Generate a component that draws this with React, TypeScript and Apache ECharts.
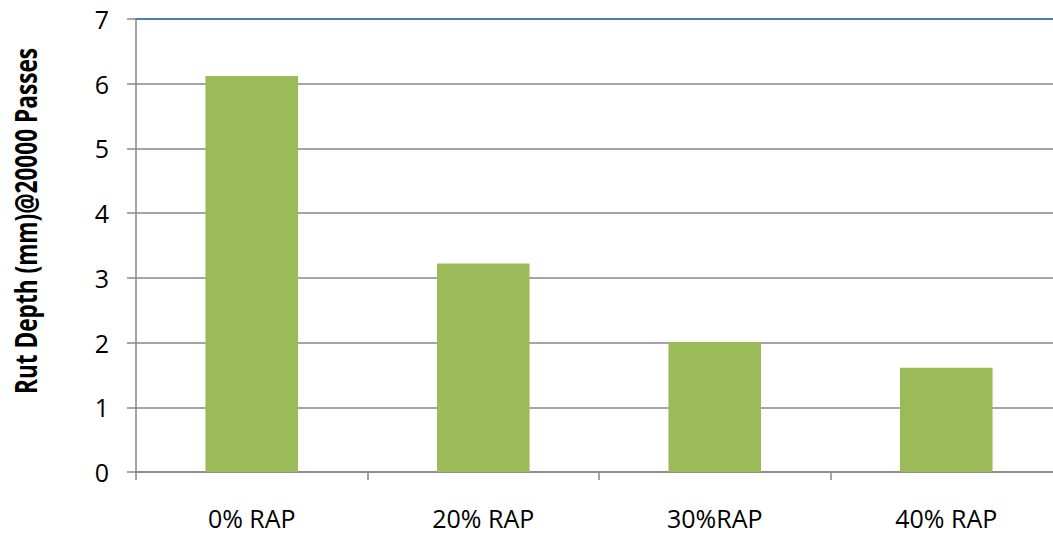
import React, { useEffect, useRef } from "react";
import * as echarts from "echarts";

// Rut depth after 20000 wheel passes for each RAP content
const categories = ["0% RAP", "20% RAP", "30%RAP", "40% RAP"];
const rutDepth = [6.12, 3.22, 2.01, 1.61];
const yTicks = { min: 0, max: 7, interval: 1 };
const yTitle = "Rut Depth (mm)@20000 Passes";

const GRID_GRAY = "#878787";
const TOP_BLUE = "#4A7EBB";
const BAR_GREEN = "#9BBB59";
const FONT = "'Open Sans', 'Liberation Sans', sans-serif";

export default function App() {
  const ref = useRef<HTMLDivElement>(null);

  useEffect(() => {
    if (!ref.current) return;
    const chart = echarts.init(ref.current, null, { renderer: "svg" });
    chart.setOption({
      animation: false,
      backgroundColor: "#ffffff",
      // the plot runs slightly past the visible right edge
      grid: { left: 136, top: 19, right: 0, bottom: 63, containLabel: false },
      xAxis: [
        {
          type: "category",
          data: categories,
          position: "bottom",
          axisLine: { show: true, lineStyle: { color: GRID_GRAY, width: 1.5 } },
          axisTick: { show: true, length: 8, lineStyle: { color: GRID_GRAY, width: 1.5 } },
          axisLabel: { color: "#000", fontFamily: FONT, fontSize: 25, margin: 33 },
          splitLine: { show: false },
        },
        {
          type: "category",
          data: categories,
          position: "top",
          axisLine: { show: true, lineStyle: { color: TOP_BLUE, width: 2 } },
          axisTick: { show: false },
          axisLabel: { show: false },
          splitLine: { show: false },
        },
      ],
      yAxis: {
        type: "value",
        min: yTicks.min,
        max: yTicks.max,
        interval: yTicks.interval,
        axisLine: { show: true, lineStyle: { color: GRID_GRAY, width: 1.5 } },
        axisTick: { show: true, length: 9, lineStyle: { color: GRID_GRAY, width: 1.5 } },
        axisLabel: { color: "#000", fontFamily: FONT, fontSize: 25, margin: 27 },
        splitLine: { show: true, lineStyle: { color: GRID_GRAY, width: 1.5 } },
      },
      graphic: [
        {
          type: "text",
          x: 25,
          y: 221,
          rotation: Math.PI / 2,
          scaleX: 0.73,
          scaleY: 1,
          style: {
            text: yTitle,
            fontFamily: FONT,
            fontWeight: "bold",
            fontSize: 31,
            fill: "#000",
            textAlign: "center",
            textVerticalAlign: "middle",
          },
        },
      ],
      series: [
        {
          type: "bar",
          data: rutDepth,
          barWidth: "40%",
          itemStyle: { color: BAR_GREEN },
        },
      ],
    });
    return () => chart.dispose();
  }, []);

  return (
    <div style={{ position: "fixed", left: 0, top: 0, width: 1053, height: 535, overflow: "hidden", background: "#fff" }}>
      <div ref={ref} style={{ width: 1062, height: 535 }} />
    </div>
  );
}
